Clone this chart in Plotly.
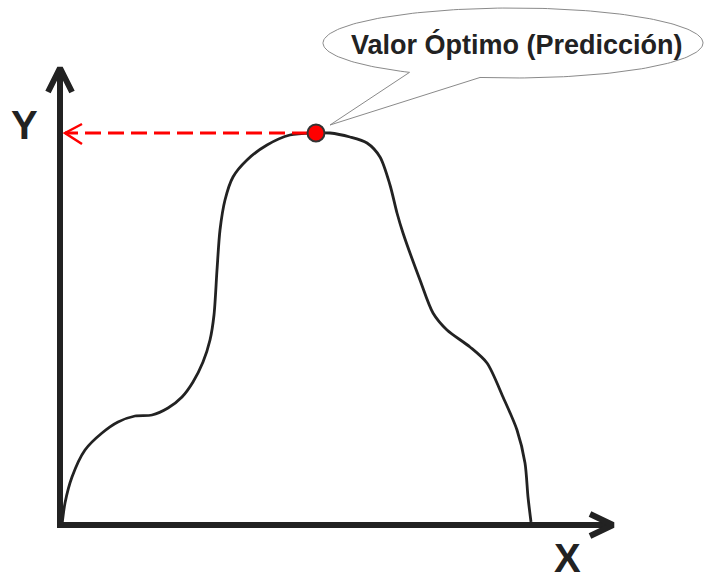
import numpy as np
import plotly.graph_objects as go

# ---- data (units = px from the origin) ----
curve_x = [2, 5, 12, 25, 42, 58, 75, 92, 108, 122, 133, 143, 150, 154, 157, 160, 165, 173,
           187, 207, 230, 256, 270, 290, 307, 320, 330, 337, 343, 360, 373, 387, 410, 427,
           443, 457, 465, 468, 471]
curve_y = [0, 22, 48, 75, 92, 103, 109, 110, 117, 128, 143, 163, 185, 210, 255, 295, 325, 348,
           365, 380, 390, 392, 392, 388, 382, 368, 340, 312, 292, 245, 212, 195, 178, 162,
           128, 95, 62, 28, 3]
peak_x = [256]
peak_y = [392]
axis_labels = ["X", "Y"]
callout_text = "Valor Óptimo (Predicción)"

INK = "#222222"
RED = "#ff0000"
FONT = "Arial, 'Liberation Sans', sans-serif"

fig = go.Figure()

# axes with open chevron arrow heads
x_end = 553
y_end = 457
fig.add_trace(go.Scatter(x=[0, 0, x_end], y=[y_end, 0, 0], mode="lines",
                         line=dict(color=INK, width=6), hoverinfo="skip"))
fig.add_trace(go.Scatter(x=[-12, 0, 12], y=[y_end - 24, y_end, y_end - 24], mode="lines",
                         line=dict(color=INK, width=6), hoverinfo="skip"))
fig.add_trace(go.Scatter(x=[x_end - 23, x_end, x_end - 23], y=[11, 0, -11], mode="lines",
                         line=dict(color=INK, width=6), hoverinfo="skip"))

# curve
fig.add_trace(go.Scatter(x=curve_x, y=curve_y, mode="lines",
                         line=dict(color=INK, width=2.8, shape="spline", smoothing=0.8),
                         hoverinfo="skip"))

# dashed red arrow from the peak to the Y axis
px_, py_ = peak_x[0], peak_y[0]
fig.add_trace(go.Scatter(x=[px_ - 8, 5], y=[py_, py_], mode="lines",
                         line=dict(color=RED, width=3, dash="16px,7px"), hoverinfo="skip"))
fig.add_trace(go.Scatter(x=[22, 5, 22], y=[py_ + 9, py_, py_ - 11], mode="lines",
                         line=dict(color=RED, width=2.5), hoverinfo="skip"))

# peak marker
fig.add_trace(go.Scatter(x=peak_x, y=peak_y, mode="markers",
                         marker=dict(size=17, color=RED, line=dict(color="#333333", width=2)),
                         hoverinfo="skip"))

# speech-bubble callout (ellipse + tail)
cx, cy, rx, ry = 453, 482, 190, 35
a0 = np.deg2rad(260)
a1 = np.deg2rad(237 + 360)
t = np.linspace(a0, a1, 200)
bx = list(cx + rx * np.cos(t)) + [px_ + 14, cx + rx * np.cos(a0)]
by = list(cy + ry * np.sin(t)) + [py_ + 8, cy + ry * np.sin(a0)]
fig.add_trace(go.Scatter(x=bx, y=by, mode="lines", fill="toself", fillcolor="white",
                         line=dict(color="#8a8a8a", width=1), hoverinfo="skip"))

fig.add_annotation(x=457, y=481, text="<b>" + callout_text + "</b>", showarrow=False,
                   font=dict(family=FONT, size=27, color=INK), xanchor="center", yanchor="middle")
fig.add_annotation(x=507, y=-33, text="<b>" + axis_labels[0] + "</b>", showarrow=False,
                   font=dict(family=FONT, size=40, color=INK), xanchor="center", yanchor="middle")
fig.add_annotation(x=-36, y=400, text="<b>" + axis_labels[1] + "</b>", showarrow=False,
                   font=dict(family=FONT, size=40, color=INK), xanchor="center", yanchor="middle")

fig.update_layout(
    width=704, height=577,
    margin=dict(l=0, r=0, t=0, b=0),
    paper_bgcolor="white", plot_bgcolor="white",
    showlegend=False,
    xaxis=dict(range=[-60, 644], visible=False, fixedrange=True),
    yaxis=dict(range=[-52, 525], visible=False, fixedrange=True),
)

fig.write_html("out.html", config={"displayModeBar": False},
               post_script="document.body.style.margin='0';document.body.style.overflow='hidden';")
